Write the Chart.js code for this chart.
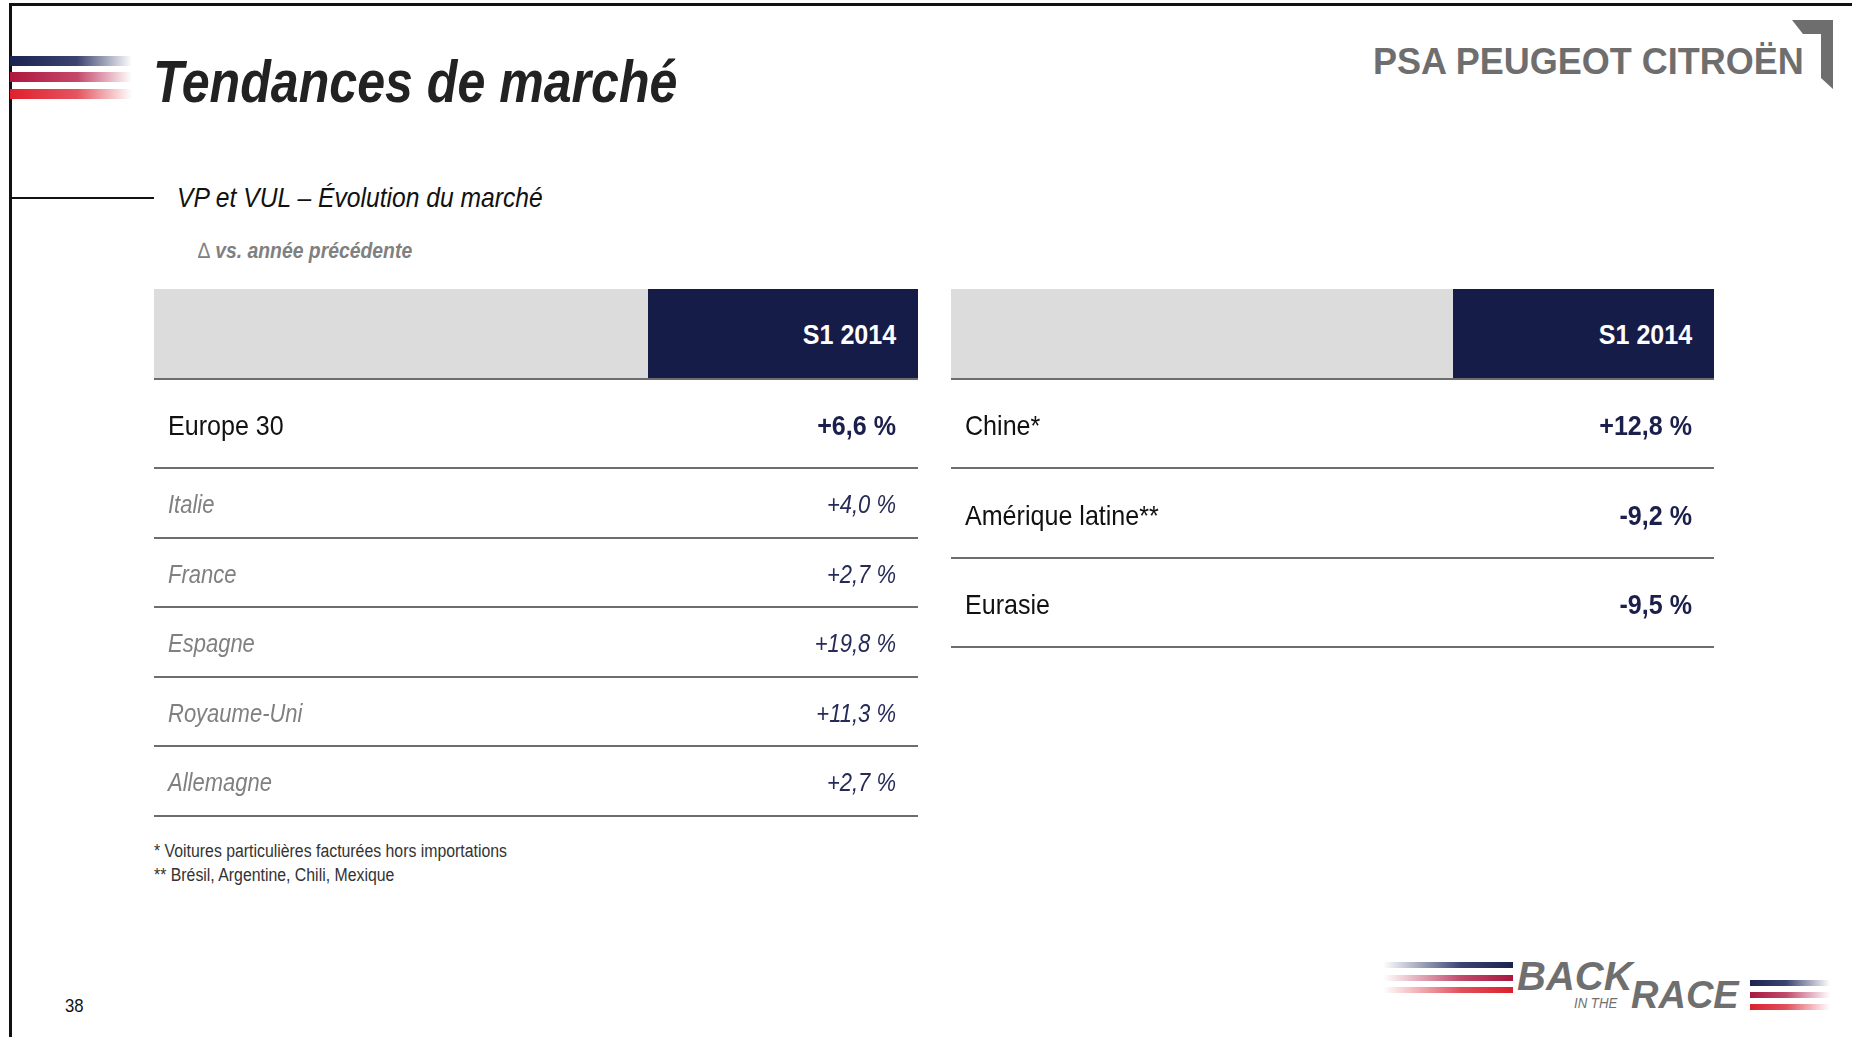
<!DOCTYPE html>
<html lang="fr">
<head>
<meta charset="utf-8">
<title>Tendances de marché</title>
<script src="https://cdn.jsdelivr.net/npm/chart.js@4.4.1/dist/chart.umd.min.js"></script>
<style>
  html, body { margin:0; padding:0; background:#fff; }
  #page { position:relative; width:1852px; height:1037px; overflow:hidden; background:#fff;
    font-family:'Liberation Sans',Arial,sans-serif; }
  .abs { position:absolute; white-space:nowrap; line-height:1; }
  .sx { display:inline-block; transform:scaleX(0.88); transform-origin:0 50%; }
  .frameTop { left:9px; top:3px; width:1843px; height:3px; background:#111; }
  .frameLeft { left:9px; top:3px; width:3px; height:1034px; background:#111; }
  .rule { left:10px; top:197px; width:144px; height:2px; background:#111; }
  .stripe { position:absolute; left:10px; width:122px; height:10px; }
  .title { left:153px; top:52px; font-size:60px; font-weight:bold; font-style:italic; color:#222; }
  .subtitle { left:177px; top:184px; font-size:28px; font-style:italic; color:#111; }
  .delta { left:198px; top:240px; font-size:22px; font-weight:bold; font-style:italic; color:#808080; }
  .hdrGray { background:#dcdcdc; }
  .hdrNavy { background:#161c48; color:#fff; font-weight:bold; font-size:28.5px; text-align:right;
    box-sizing:border-box; padding-right:22px; line-height:90px; }
  .hdrNavy span { display:inline-block; transform:scaleX(0.88); transform-origin:100% 50%; }
  .box { position:absolute; }
  .note { left:154px; font-size:18px; color:#333; }
  .psa { left:1373px; top:44px; font-weight:bold; font-size:36px; color:#6e6e6e; }
  .bitr { font-weight:bold; font-style:italic; color:#6f6f6f; }
</style>
</head>
<body>
<div id="page">
  <div class="abs frameTop"></div>
  <div class="abs frameLeft"></div>

  <div class="stripe" style="top:56px;background:linear-gradient(90deg,#1b2450 0%,#3b4470 55%,rgba(200,205,220,0) 100%)"></div>
  <div class="stripe" style="top:72px;background:linear-gradient(90deg,#b0163e 0%,#c4486a 55%,rgba(240,200,210,0) 100%)"></div>
  <div class="stripe" style="top:89px;background:linear-gradient(90deg,#e0202c 0%,#e45560 55%,rgba(250,210,215,0) 100%)"></div>

  <div class="abs title"><span class="sx" style="transform:scaleX(0.835)">Tendances de marché</span></div>
  <div class="abs rule"></div>
  <div class="abs subtitle"><span class="sx">VP et VUL – Évolution du marché</span></div>
  <div class="abs delta"><span class="sx"><span style="font-weight:normal;font-style:normal">∆</span> vs. année précédente</span></div>

  <div class="abs psa">PSA PEUGEOT CITROËN</div>
  <svg class="abs" style="left:1785px;top:14px" width="60" height="80" viewBox="0 0 60 80">
    <polygon points="7,6 48,6 48,75 36,64 36,20 18,20" fill="#6e6e6e"/>
  </svg>

  <!-- left table header -->
  <div class="box hdrGray" style="left:154px;top:289px;width:494px;height:90px"></div>
  <div class="box hdrNavy" style="left:648px;top:289px;width:270px;height:90px"><span id="hdrL"></span></div>
  <div class="box" style="left:154px;top:376px;width:764px;height:95px"><canvas id="leftTop"></canvas></div>
  <div class="box" style="left:154px;top:465px;width:764px;height:354px"><canvas id="leftBottom"></canvas></div>

  <!-- right table header -->
  <div class="box hdrGray" style="left:951px;top:289px;width:502px;height:90px"></div>
  <div class="box hdrNavy" style="left:1453px;top:289px;width:261px;height:90px"><span id="hdrR"></span></div>
  <div class="box" style="left:951px;top:376px;width:763px;height:274px"><canvas id="right"></canvas></div>

  <div class="abs note" style="top:842px"><span class="sx">* Voitures particulières facturées hors importations</span></div>
  <div class="abs note" style="top:866px"><span class="sx">** Brésil, Argentine, Chili, Mexique</span></div>
  <div class="abs" style="left:65px;top:996px;font-size:19px;color:#111"><span class="sx">38</span></div>

  <!-- back in the race -->
  <div class="stripe" style="left:1383px;top:962px;width:130px;height:6px;background:linear-gradient(90deg,rgba(200,205,225,0) 0%,#3a4472 60%,#1b2450 100%)"></div>
  <div class="stripe" style="left:1383px;top:975px;width:130px;height:6px;background:linear-gradient(90deg,rgba(240,200,210,0) 0%,#c04a6c 60%,#a8183e 100%)"></div>
  <div class="stripe" style="left:1383px;top:987px;width:130px;height:6px;background:linear-gradient(90deg,rgba(250,210,215,0) 0%,#e0505c 60%,#dc1f2c 100%)"></div>
  <div class="abs bitr" style="left:1517px;top:956px;font-size:40px">BACK</div>
  <div class="abs bitr" style="left:1574px;top:995px;font-size:15px;font-weight:normal"><span class="sx">IN THE</span></div>
  <div class="abs bitr" style="left:1631px;top:976px;font-size:38px">RACE</div>
  <div class="stripe" style="left:1750px;top:980px;width:80px;height:6px;background:linear-gradient(90deg,#1b2450 0%,#3a4472 45%,rgba(200,205,225,0) 100%)"></div>
  <div class="stripe" style="left:1750px;top:992px;width:80px;height:6px;background:linear-gradient(90deg,#a8183e 0%,#c04a6c 45%,rgba(240,200,210,0) 100%)"></div>
  <div class="stripe" style="left:1750px;top:1004px;width:80px;height:6px;background:linear-gradient(90deg,#dc1f2c 0%,#e0505c 45%,rgba(250,210,215,0) 100%)"></div>
</div>

<script>
// data
const period = 'S1 2014';
const europeLabels = ['Europe 30'];
const europeValues = [6.6];
const countryLabels = ['Italie', 'France', 'Espagne', 'Royaume-Uni', 'Allemagne'];
const countryValues = [4.0, 2.7, 19.8, 11.3, 2.7];
const regionLabels = ['Chine*', 'Amérique latine**', 'Eurasie'];
const regionValues = [12.8, -9.2, -9.5];

document.getElementById('hdrL').textContent = period;
document.getElementById('hdrR').textContent = period;

const FONT = "'Liberation Sans',Arial,sans-serif";
const SQUEEZE = 0.88;
const fmt = v => (v >= 0 ? '+' : '-') + Math.abs(v).toFixed(1).replace('.', ',') + ' %';

function squeezed(ctx, text, x, y, align){
  ctx.save();
  ctx.translate(x, y);
  ctx.scale(SQUEEZE, 1);
  ctx.textAlign = align;
  ctx.fillText(text, 0, 0);
  ctx.restore();
}

function makeTable(id, labels, values, st){
  // row label + value cell, placed on the category scale
  const cells = {
    id: 'cells',
    afterDatasetsDraw(chart){
      const ctx = chart.ctx, area = chart.chartArea, y = chart.scales.y;
      const data = chart.data.datasets[0].data;
      ctx.save();
      ctx.textBaseline = 'alphabetic';
      chart.data.labels.forEach((lab, i) => {
        const base = y.getPixelForValue(i) + st.size * 0.358 + 1.3;
        ctx.font = st.labelFont;
        ctx.fillStyle = st.labelColor;
        squeezed(ctx, lab, area.left + 14, base, 'left');
        ctx.font = st.valueFont;
        ctx.fillStyle = st.valueColor;
        squeezed(ctx, fmt(data[i]), area.right - 22, base, 'right');
      });
      ctx.restore();
    }
  };
  return new Chart(document.getElementById(id), {
    type: 'bar',
    data: { labels: labels, datasets: [{ data: values, backgroundColor: 'rgba(0,0,0,0)', borderWidth: 0 }] },
    options: {
      indexAxis: 'y',
      responsive: true, maintainAspectRatio: false, animation: false,
      layout: { padding: { top: 3, bottom: 3, left: 0, right: 0 } },
      plugins: { legend: { display: false }, tooltip: { enabled: false } },
      scales: {
        x: { type: 'linear', display: false, min: -12, max: 22 },
        y: {
          type: 'category',
          border: { display: false },
          grid: { offset: true, drawTicks: false, color: '#6d6d6d', lineWidth: 2 },
          ticks: { display: false }
        }
      }
    },
    plugins: [cells]
  });
}

makeTable('leftTop', europeLabels, europeValues,
  { size: 28.5, labelFont: '28.5px ' + FONT, labelColor: '#111', valueFont: 'bold 28.5px ' + FONT, valueColor: '#1b1f4b' });
makeTable('leftBottom', countryLabels, countryValues,
  { size: 25, labelFont: 'italic 25px ' + FONT, labelColor: '#808080', valueFont: 'italic 25px ' + FONT, valueColor: '#262a58' });
makeTable('right', regionLabels, regionValues,
  { size: 28.5, labelFont: '28.5px ' + FONT, labelColor: '#111', valueFont: 'bold 28.5px ' + FONT, valueColor: '#1b1f4b' });
</script>
</body>
</html>
